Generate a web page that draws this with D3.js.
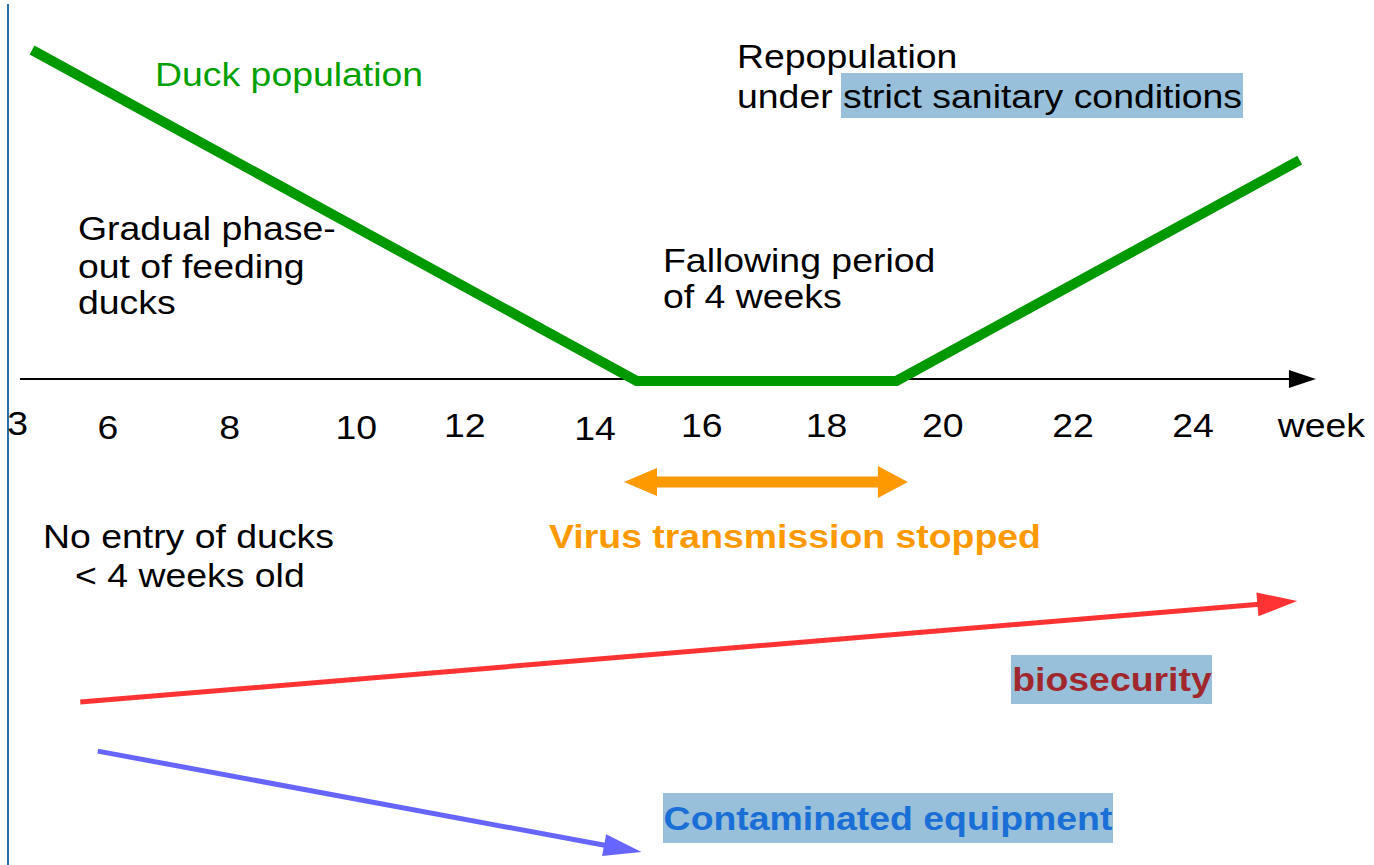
<!DOCTYPE html>
<html><head><meta charset="utf-8">
<script src="https://cdn.jsdelivr.net/npm/d3@7"></script>
<style>html,body{margin:0;padding:0;background:#fff;overflow:hidden}</style>
</head><body>
<svg id="c" width="1374" height="865"></svg>
<script>
// ---- data ----
const tickLabels = ["3","6","8","10","12","14","16","18","20","22","24","week"];
// label positions (in weeks) as placed in the original drawing
const tickWeeks  = [4.5, 6, 8.02, 10.12, 11.92, 14.08, 15.85, 17.92, 19.85, 22.01, 24, 26.13];
const popWeeks   = [4.74, 14.77, 19.08, 25.77];
const popValues  = [100, -0.6, -0.6, 66.5];
const virusStopWeeks = [14.56, 19.27];
const virusStopLevel = -31.3;
const biosecurityFrom = [5.54, -98.2];
const biosecurityTo   = [25.73, -67.5];
const equipmentFrom   = [5.83, -113.1];
const equipmentTo     = [14.85, -143.8];

const svg = d3.select("#c");
const x = d3.scaleLinear().domain([6, 24]).range([108, 1193]);
const y = d3.scaleLinear().domain([0, 100]).range([379, 50]);
const FONT = "'Liberation Sans', Arial, sans-serif";
const SX = 1.1;
const tickDy = [-3, 1, 1, 1, -1, 2, -1, -1, -1, -1, -1, -1];

// left border
svg.append("line").attr("x1", 8).attr("x2", 8).attr("y1", 4).attr("y2", 865)
  .attr("stroke", "#2a6ea6").attr("stroke-width", 2);

function head(x1, y1, x2, y2, len, hw, color) {
  const dx = x2 - x1, dy = y2 - y1, L = Math.hypot(dx, dy);
  const ux = dx / L, uy = dy / L;
  const bx = x2 - ux * len, by = y2 - uy * len;
  svg.append("polygon")
    .attr("points", [[x2, y2], [bx - uy * hw, by + ux * hw], [bx + uy * hw, by - ux * hw]].map(p => p.join(",")).join(" "))
    .attr("fill", color);
  return [bx + ux * 2, by + uy * 2];
}

// axis
const axTip = x(26.04);
svg.append("line").attr("x1", 20).attr("x2", axTip - 20).attr("y1", y(0)).attr("y2", y(0))
  .attr("stroke", "#000").attr("stroke-width", 2);
head(20, y(0), axTip, y(0), 27, 9, "#000");

// duck population line
svg.append("path")
  .datum(popWeeks.map((w, i) => [w, popValues[i]]))
  .attr("d", d3.line().x(d => x(d[0])).y(d => y(d[1])))
  .attr("fill", "none").attr("stroke", "#009900").attr("stroke-width", 10)
  .attr("stroke-linejoin", "miter");

function txt(str, px, py, opts = {}) {
  return svg.append("text")
    .attr("transform", `translate(${px},${py}) scale(${SX},1)`)
    .attr("font-family", FONT)
    .attr("font-size", opts.size || 34)
    .attr("font-weight", opts.bold ? "bold" : "normal")
    .attr("fill", opts.color || "#000")
    .attr("text-anchor", opts.anchor || "start")
    .text(str);
}
// tick labels
tickLabels.forEach((lab, i) => txt(lab, x(tickWeeks[i]), 438 + tickDy[i], { anchor: "middle" }));

// orange double arrow
{
  const x1 = x(virusStopWeeks[0]), x2 = x(virusStopWeeks[1]), yy = y(virusStopLevel);
  const a = head(x2, yy, x1, yy, 33, 14, "#ff9900");
  const b = head(x1, yy, x2, yy, 30, 16, "#ff9900");
  svg.append("line").attr("x1", a[0]).attr("x2", b[0]).attr("y1", yy).attr("y2", yy)
    .attr("stroke", "#ff9900").attr("stroke-width", 11);
}

// red / blue arrows
function arrow(from, to, color, w, len, hw) {
  const x1 = x(from[0]), y1 = y(from[1]), x2 = x(to[0]), y2 = y(to[1]);
  const b = head(x1, y1, x2, y2, len, hw, color);
  svg.append("line").attr("x1", x1).attr("y1", y1).attr("x2", b[0]).attr("y2", b[1])
    .attr("stroke", color).attr("stroke-width", w);
}
arrow(biosecurityFrom, biosecurityTo, "#ff3333", 5, 40, 12);
arrow(equipmentFrom, equipmentTo, "#6666ff", 5, 38, 11);

// highlight boxes
const HL = "#99c0da";
svg.append("rect").attr("x", 841).attr("y", 73).attr("width", 402).attr("height", 45).attr("fill", HL);
svg.append("rect").attr("x", 1011).attr("y", 655).attr("width", 201).attr("height", 49).attr("fill", HL);
svg.append("rect").attr("x", 663).attr("y", 793).attr("width", 450).attr("height", 50).attr("fill", HL);

// annotations
txt("Duck population", 155, 86, { color: "#00a000" });
txt("Gradual phase-", 78, 240);
txt("out of feeding", 78, 278);
txt("ducks", 78, 314);
txt("Fallowing period", 663, 272);
txt("of 4 weeks", 663, 308);
txt("Repopulation", 737, 68);
txt("under strict sanitary conditions", 737, 108);
txt("No entry of ducks", 43, 548);
txt("< 4 weeks old", 75, 587);
txt("Virus transmission stopped", 795, 548, { bold: true, color: "#ff9900", anchor: "middle" });
txt("biosecurity", 1112, 691, { bold: true, color: "#a0282c", anchor: "middle" });
txt("Contaminated equipment", 888, 830, { bold: true, color: "#1a6fd6", anchor: "middle" });
</script>
</body></html>
